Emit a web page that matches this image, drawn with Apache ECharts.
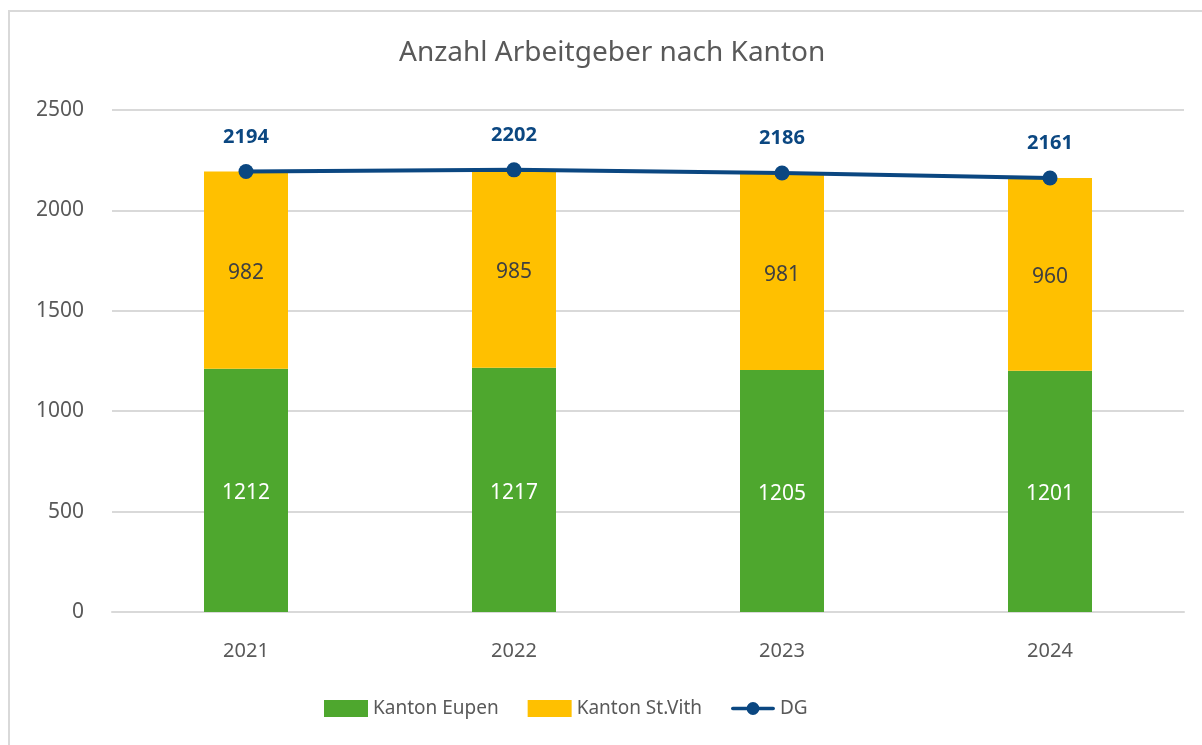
<!DOCTYPE html>
<html>
<head>
<meta charset="UTF-8">
<title>Anzahl Arbeitgeber nach Kanton</title>
<script type="text/javascript" src="https://cdn.jsdelivr.net/npm/echarts@6/dist/echarts.min.js"></script>
<style>
  html, body { margin: 0; padding: 0; background: #fff; }
  #main { width: 1202px; height: 745px; }
</style>
</head>
<body>
<div id="main"></div>
<script type="text/javascript">
// Daten
var jahre = ['2021', '2022', '2023', '2024'];
var eupen = [1212, 1217, 1205, 1201];
var stVith = [982, 985, 981, 960];
var dg = [2194, 2202, 2186, 2161];

var schrift = '"Noto Sans", "Open Sans", sans-serif';
var grau = '#595959';
var blau = '#0b4781';

// Legendensymbol fuer die Linie: dicke Linie mit Punkt
var linienIcon = 'path://M2,6 h44 a2,2 0 0 1 0,4 h-44 a2,2 0 0 1 0,-4 z M24,1 a7,7 0 1 1 0,14 a7,7 0 1 1 0,-14 z';

var myChart = echarts.init(document.getElementById('main'));

var option = {
    animation: false,
    textStyle: { fontFamily: schrift },
    graphic: [{
        type: 'rect',
        shape: { x: 9, y: 11, width: 1240, height: 780 },
        style: { fill: 'none', stroke: '#d9d9d9', lineWidth: 2 },
        silent: true
    }],
    title: {
        text: 'Anzahl Arbeitgeber nach Kanton',
        left: 394,
        top: 34,
        textStyle: { color: grau, fontSize: 28, fontWeight: 'normal', fontFamily: schrift }
    },
    legend: {
        left: 319,
        top: 694,
        itemGap: 29,
        itemWidth: 44,
        itemHeight: 17,
        textStyle: { color: grau, fontSize: 19, fontFamily: schrift },
        data: [
            { name: 'Kanton Eupen', icon: 'rect' },
            { name: 'Kanton St.Vith', icon: 'rect' },
            { name: 'DG', icon: linienIcon, itemStyle: { color: blau } }
        ]
    },
    grid: { left: 112, right: 18, top: 110, bottom: 133 },
    xAxis: {
        type: 'category',
        data: jahre,
        axisLine: { lineStyle: { color: '#d9d9d9', width: 2 } },
        axisTick: { show: false },
        axisLabel: { color: grau, fontSize: 20, margin: 29, fontFamily: schrift }
    },
    yAxis: {
        type: 'value',
        min: 0,
        max: 2500,
        interval: 500,
        axisLine: { show: false },
        axisTick: { show: false },
        splitLine: { lineStyle: { color: '#d9d9d9', width: 2 } },
        axisLabel: {
            color: grau,
            fontSize: 21,
            margin: 28,
            fontFamily: schrift,
            formatter: function (v) { return String(v); }
        }
    },
    series: [
        {
            name: 'Kanton Eupen',
            type: 'bar',
            stack: 'kanton',
            barWidth: 84,
            itemStyle: { color: '#4ea72e' },
            label: { show: true, position: 'inside', offset: [0, 3], color: '#ffffff', fontSize: 21, fontFamily: schrift },
            data: eupen
        },
        {
            name: 'Kanton St.Vith',
            type: 'bar',
            stack: 'kanton',
            barWidth: 84,
            itemStyle: { color: '#ffc000' },
            label: { show: true, position: 'inside', offset: [0, 3], color: '#404040', fontSize: 21, fontFamily: schrift },
            data: stVith
        },
        {
            name: 'DG',
            type: 'line',
            symbol: 'circle',
            symbolSize: 15,
            itemStyle: { color: blau },
            lineStyle: { color: blau, width: 4 },
            label: {
                show: true,
                position: 'top',
                distance: 17,
                color: blau,
                fontSize: 20,
                fontWeight: 'bold',
                fontFamily: schrift
            },
            data: dg
        }
    ]
};

myChart.setOption(option);
</script>
</body>
</html>
